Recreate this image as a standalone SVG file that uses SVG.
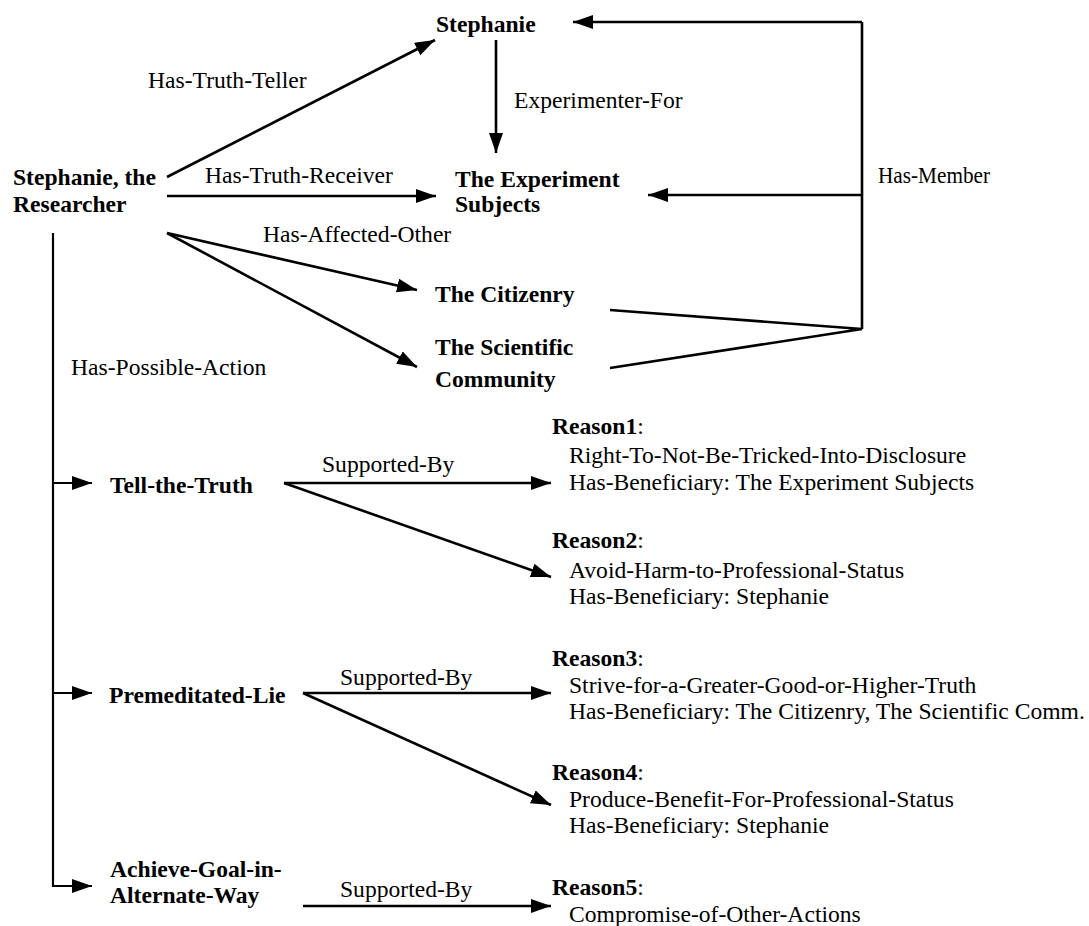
<svg xmlns="http://www.w3.org/2000/svg" width="1089" height="926" viewBox="0 0 1089 926" font-family="'Liberation Serif', 'Times New Roman', Times, serif">
<style>
text{font-family:'Liberation Serif','Times New Roman',Times,serif;font-size:23.6px;fill:#000}
.b{font-weight:bold}
.ln{stroke:#000;stroke-width:2.6;fill:none}
.v{stroke:#000;stroke-width:2.2;fill:none}
</style>
<defs>
<marker id="ah" markerUnits="userSpaceOnUse" markerWidth="22" markerHeight="16" refX="20" refY="7" orient="auto">
<path d="M0,0 L20,7 L0,14 z" fill="#000"/>
</marker>
</defs>
<rect width="1089" height="926" fill="#fff"/>
<g id="connectors">
<line class="ln" x1="167" y1="177" x2="435" y2="40" marker-end="url(#ah)"/>
<line class="ln" x1="167" y1="196" x2="436" y2="196" marker-end="url(#ah)"/>
<line class="ln" x1="167" y1="233" x2="417" y2="290" marker-end="url(#ah)"/>
<line class="ln" x1="167" y1="233" x2="417" y2="367" marker-end="url(#ah)"/>
<line class="ln" x1="496" y1="40" x2="496" y2="153" marker-end="url(#ah)"/>
<polyline class="ln" points="610,310 862,329 610,368"/>
<line class="ln" x1="862" y1="329" x2="862" y2="22"/>
<line class="ln" x1="862" y1="22" x2="573" y2="22" marker-end="url(#ah)"/>
<line class="ln" x1="862" y1="195" x2="648" y2="195" marker-end="url(#ah)"/>
<line class="v" x1="53" y1="233" x2="53" y2="887"/>
<line class="v" x1="52" y1="483" x2="92" y2="483" marker-end="url(#ah)"/>
<line class="v" x1="52" y1="693" x2="92" y2="693" marker-end="url(#ah)"/>
<line class="v" x1="52" y1="886" x2="92" y2="886" marker-end="url(#ah)"/>
<line class="ln" x1="284" y1="483" x2="551" y2="483" marker-end="url(#ah)"/>
<line class="ln" x1="284" y1="483" x2="551" y2="577" marker-end="url(#ah)"/>
<line class="ln" x1="303" y1="693" x2="551" y2="693" marker-end="url(#ah)"/>
<line class="ln" x1="303" y1="693" x2="551" y2="805" marker-end="url(#ah)"/>
<line class="ln" x1="303" y1="906" x2="551" y2="906" marker-end="url(#ah)"/>
<text x="148" y="88">Has-Truth-Teller</text>
<text x="205" y="183">Has-Truth-Receiver</text>
<text x="263" y="242">Has-Affected-Other</text>
<text x="514" y="108">Experimenter-For</text>
<text x="878" y="183" textLength="112" lengthAdjust="spacingAndGlyphs">Has-Member</text>
<text x="71" y="375">Has-Possible-Action</text>
<text x="322" y="472">Supported-By</text>
<text x="340" y="685">Supported-By</text>
<text x="340" y="897">Supported-By</text>
</g>
<g id="n-researcher"><text class="b" x="13" y="185">Stephanie, the</text><text class="b" x="13" y="212">Researcher</text></g>
<g id="n-stephanie"><text class="b" x="436" y="32">Stephanie</text></g>
<g id="n-subjects"><text class="b" x="455" y="187">The Experiment</text><text class="b" x="455" y="212">Subjects</text></g>
<g id="n-citizenry"><text class="b" x="435" y="302">The Citizenry</text></g>
<g id="n-community"><text class="b" x="435" y="355">The Scientific</text><text class="b" x="435" y="387">Community</text></g>
<g id="n-tell"><text class="b" x="110" y="493">Tell-the-Truth</text></g>
<g id="n-lie"><text class="b" x="109" y="703">Premeditated-Lie</text></g>
<g id="n-achieve"><text class="b" x="110" y="877">Achieve-Goal-in-</text><text class="b" x="110" y="903">Alternate-Way</text></g>
<g id="n-reason1"><text x="552" y="434"><tspan class="b">Reason1</tspan>:</text><text x="569" y="463">Right-To-Not-Be-Tricked-Into-Disclosure</text><text x="569" y="490">Has-Beneficiary: The Experiment Subjects</text></g>
<g id="n-reason2"><text x="552" y="548"><tspan class="b">Reason2</tspan>:</text><text x="569" y="578">Avoid-Harm-to-Professional-Status</text><text x="569" y="604">Has-Beneficiary: Stephanie</text></g>
<g id="n-reason3"><text x="552" y="666"><tspan class="b">Reason3</tspan>:</text><text x="569" y="693">Strive-for-a-Greater-Good-or-Higher-Truth</text><text x="569" y="719">Has-Beneficiary: The Citizenry, The Scientific Comm.</text></g>
<g id="n-reason4"><text x="552" y="780"><tspan class="b">Reason4</tspan>:</text><text x="569" y="807">Produce-Benefit-For-Professional-Status</text><text x="569" y="833">Has-Beneficiary: Stephanie</text></g>
<g id="n-reason5"><text x="552" y="895"><tspan class="b">Reason5</tspan>:</text><text x="569" y="922">Compromise-of-Other-Actions</text></g>
</svg>
